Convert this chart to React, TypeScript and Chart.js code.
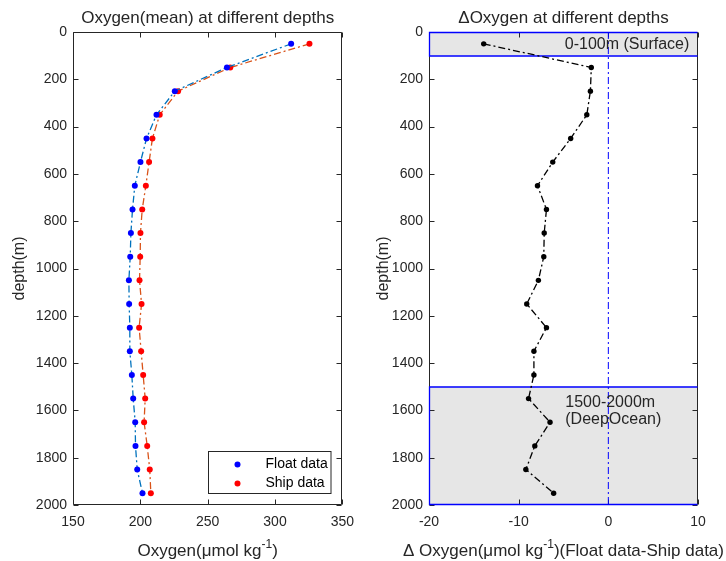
import React, { useEffect, useRef } from "react";
import { Chart, registerables } from "chart.js";

Chart.register(...registerables);

// ---------- data ----------
const depths = [50, 150, 250, 350, 450, 550, 650, 750, 850, 950, 1050, 1150, 1250, 1350, 1450, 1550, 1650, 1750, 1850, 1950];
const floatOxygen = [312.0, 264.3, 225.6, 212.0, 204.6, 200.1, 195.9, 194.2, 193.0, 192.5, 191.5, 191.7, 192.2, 192.2, 193.7, 194.7, 196.2, 196.4, 197.7, 201.6];
const shipOxygen = [325.6, 266.8, 228.0, 214.4, 209.0, 206.5, 204.1, 201.4, 200.1, 199.9, 199.4, 200.9, 199.1, 200.6, 202.1, 203.6, 202.8, 205.1, 207.0, 207.8];
const deltaOxygen = [-13.9, -1.9, -2.0, -2.4, -4.2, -6.2, -7.9, -6.9, -7.15, -7.2, -7.8, -9.1, -6.9, -8.3, -8.3, -8.9, -6.5, -8.2, -9.2, -6.1];
const leftXTicks = [150, 200, 250, 300, 350];
const rightXTicks = [-20, -10, 0, 10];
const depthTicks = [0, 200, 400, 600, 800, 1000, 1200, 1400, 1600, 1800, 2000];
const surfaceLayer = [0, 100];
const deepLayer = [1500, 2000];
const zeroLine = [0, 0];
const zeroLineDepths = [0, 2000];
const seriesNames = ["Float data", "Ship data"];

// axis titles as [text, isSuperscript] parts
const leftXTitle: [string, boolean][] = [["Oxygen(μmol kg", false], ["-1", true], [")", false]];
const rightXTitle: [string, boolean][] = [["Δ", false], [" ", false], ["Oxygen(μmol kg", false], ["-1", true], [")(Float data-Ship data)", false]];

const FONT = "'Liberation Sans', Arial, Helvetica, sans-serif";
const AX = "#262626";
const DASHDOT = [7, 3, 2, 3];

function drawFrame(chart: any, xTicks: number[], yTicks: number[]) {
  const { ctx, chartArea: a, scales } = chart;
  const L = Math.round(a.left) + 0.5;
  const R = Math.round(a.right) - 0.5;
  const T = Math.round(a.top) + 0.5;
  const B = Math.round(a.bottom) - 0.5;
  ctx.save();
  ctx.strokeStyle = AX;
  ctx.lineWidth = 1;
  ctx.beginPath();
  ctx.moveTo(L, T);
  ctx.lineTo(R, T);
  ctx.lineTo(R, B);
  ctx.lineTo(L, B);
  ctx.closePath();
  ctx.stroke();
  const tl = 5;
  ctx.beginPath();
  xTicks.forEach((v) => {
    const px = Math.round(scales.x.getPixelForValue(v)) + 0.5;
    ctx.moveTo(px, B);
    ctx.lineTo(px, B - tl);
    ctx.moveTo(px, T);
    ctx.lineTo(px, T + tl);
  });
  yTicks.forEach((v) => {
    const py = Math.round(scales.y.getPixelForValue(v)) + 0.5;
    ctx.moveTo(L, py);
    ctx.lineTo(L + tl, py);
    ctx.moveTo(R, py);
    ctx.lineTo(R - tl, py);
  });
  ctx.stroke();
  ctx.restore();
}

function drawXTitle(chart: any, parts: [string, boolean][]) {
  const { ctx, chartArea: a } = chart;
  const main = `17px ${FONT}`;
  const sup = `12px ${FONT}`;
  ctx.save();
  ctx.fillStyle = AX;
  ctx.textBaseline = "alphabetic";
  ctx.textAlign = "left";
  const widths = parts.map(([t, s]) => {
    ctx.font = s ? sup : main;
    return ctx.measureText(t).width;
  });
  const total = widths.reduce((p, c) => p + c, 0);
  let x = (a.left + a.right) / 2 - total / 2;
  const base = 556;
  parts.forEach(([t, s], i) => {
    ctx.font = s ? sup : main;
    ctx.fillText(t, x, s ? base - 8 : base);
    x += widths[i];
  });
  ctx.restore();
}

function makeScales(xMin: number, xMax: number, xTicks: number[], yWidth: number, yTitlePad: number) {
  return {
    x: {
      type: "linear",
      min: xMin,
      max: xMax,
      afterBuildTicks: (s: any) => {
        s.ticks = xTicks.map((v) => ({ value: v }));
      },
      afterFit: (s: any) => {
        s.height = 56;
      },
      grid: { display: false, drawTicks: false },
      border: { display: false },
      ticks: { color: AX, font: { family: FONT, size: 14 }, padding: 9, maxRotation: 0, callback: (v: any) => String(v) },
      title: { display: false },
    },
    y: {
      type: "linear",
      min: 0,
      max: 2000,
      reverse: true,
      afterBuildTicks: (s: any) => {
        s.ticks = depthTicks.map((v) => ({ value: v }));
      },
      afterFit: (s: any) => {
        s.width = yWidth;
      },
      grid: { display: false, drawTicks: false },
      border: { display: false },
      ticks: { color: AX, font: { family: FONT, size: 14 }, padding: 6, callback: (v: any) => String(v) },
      title: {
        display: true,
        text: "depth(m)",
        color: AX,
        font: { family: FONT, size: 16 },
        padding: { top: yTitlePad, bottom: 0 },
      },
    },
  };
}

function titleOpts(text: string) {
  return {
    display: true,
    text,
    fullSize: false,
    color: AX,
    font: { family: FONT, size: 17, weight: "normal" },
    padding: { top: 8, bottom: 3.6 },
  };
}

function leftConfig(): any {
  const legendPlugin = {
    id: "leftFrameLegend",
    afterDatasetsDraw(chart: any) {
      drawFrame(chart, leftXTicks, depthTicks);
      const { ctx } = chart;
      ctx.save();
      const bx = 208.5, by = 451.5, bw = 122.5, bh = 42;
      ctx.fillStyle = "#ffffff";
      ctx.fillRect(bx, by, bw, bh);
      ctx.strokeStyle = AX;
      ctx.lineWidth = 1;
      ctx.strokeRect(bx, by, bw, bh);
      const colors = ["#0000FF", "#FF0000"];
      const ys = [464.5, 483.5];
      ctx.font = `14px ${FONT}`;
      ctx.textBaseline = "middle";
      ctx.textAlign = "left";
      seriesNames.forEach((name, i) => {
        ctx.fillStyle = colors[i];
        ctx.beginPath();
        ctx.arc(237.5, ys[i], 3, 0, Math.PI * 2);
        ctx.fill();
        ctx.fillStyle = "#000000";
        ctx.fillText(name, 265.5, ys[i]);
      });
      ctx.restore();
    },
    afterDraw(chart: any) {
      drawXTitle(chart, leftXTitle);
    },
  };
  return {
    type: "scatter",
    data: {
      datasets: [
        {
          label: seriesNames[0],
          data: depths.map((d, i) => ({ x: floatOxygen[i], y: d })),
          showLine: true,
          borderColor: "#0072BD",
          borderWidth: 1.3,
          borderDash: DASHDOT,
          pointRadius: 3,
          pointBorderWidth: 0,
          pointBackgroundColor: "#0000FF",
          pointBorderColor: "#0000FF",
        },
        {
          label: seriesNames[1],
          data: depths.map((d, i) => ({ x: shipOxygen[i], y: d })),
          showLine: true,
          borderColor: "#D95319",
          borderWidth: 1.3,
          borderDash: DASHDOT,
          pointRadius: 3,
          pointBorderWidth: 0,
          pointBackgroundColor: "#FF0000",
          pointBorderColor: "#FF0000",
        },
      ],
    },
    options: {
      responsive: false,
      animation: false,
      devicePixelRatio: 1,
      layout: { padding: { left: 0, right: 20, top: 0, bottom: 0 } },
      plugins: {
        legend: { display: false },
        tooltip: { enabled: false },
        title: titleOpts("Oxygen(mean) at different depths"),
      },
      scales: makeScales(150, 350, leftXTicks, 73, 10.4),
    },
    plugins: [legendPlugin],
  };
}

function rightConfig(): any {
  const layerPlugin = {
    id: "rightLayers",
    beforeDatasetsDraw(chart: any) {
      const { ctx, chartArea: a, scales } = chart;
      const L = Math.round(a.left) + 0.5;
      const R = Math.round(a.right) - 0.5;
      const layers = [surfaceLayer, deepLayer];
      ctx.save();
      ctx.fillStyle = "#E6E6E6";
      layers.forEach((ly) => {
        const t = scales.y.getPixelForValue(ly[0]);
        const b = scales.y.getPixelForValue(ly[1]);
        ctx.fillRect(a.left, t, a.right - a.left, b - t);
      });
      ctx.restore();
      drawFrame(chart, rightXTicks, depthTicks);
      ctx.save();
      ctx.strokeStyle = "#0000FF";
      ctx.lineWidth = 1.3;
      layers.forEach((ly) => {
        const t = Math.round(scales.y.getPixelForValue(ly[0])) + (ly[0] === 0 ? 0.5 : 0);
        const b = Math.round(scales.y.getPixelForValue(ly[1])) - (ly[1] === 2000 ? 0.5 : 0);
        ctx.beginPath();
        ctx.moveTo(R, t);
        ctx.lineTo(L, t);
        ctx.lineTo(L, b);
        ctx.lineTo(R, b);
        ctx.stroke();
      });
      ctx.restore();
    },
    afterDatasetsDraw(chart: any) {
      const { ctx, scales } = chart;
      ctx.save();
      ctx.fillStyle = AX;
      ctx.font = `16px ${FONT}`;
      ctx.textBaseline = "middle";
      ctx.textAlign = "left";
      ctx.fillText("0-100m (Surface)", scales.x.getPixelForValue(-4.85), scales.y.getPixelForValue(55));
      ctx.fillText("1500-2000m", scales.x.getPixelForValue(-4.8), scales.y.getPixelForValue(1567));
      ctx.fillText("(DeepOcean)", scales.x.getPixelForValue(-4.8), scales.y.getPixelForValue(1640));
      ctx.restore();
    },
    afterDraw(chart: any) {
      drawXTitle(chart, rightXTitle);
    },
  };
  return {
    type: "scatter",
    data: {
      datasets: [
        {
          label: "zero",
          data: zeroLine.map((v, i) => ({ x: v, y: zeroLineDepths[i] })),
          showLine: true,
          borderColor: "#0000FF",
          borderWidth: 1,
          borderDash: DASHDOT,
          pointRadius: 0,
        },
        {
          label: "delta",
          data: depths.map((d, i) => ({ x: deltaOxygen[i], y: d })),
          showLine: true,
          borderColor: "#000000",
          borderWidth: 1.3,
          borderDash: DASHDOT,
          pointRadius: 2.7,
          pointBorderWidth: 0,
          pointBackgroundColor: "#000000",
          pointBorderColor: "#000000",
        },
      ],
    },
    options: {
      responsive: false,
      animation: false,
      devicePixelRatio: 1,
      layout: { padding: { left: 0, right: 28, top: 0, bottom: 0 } },
      plugins: {
        legend: { display: false },
        tooltip: { enabled: false },
        title: titleOpts("ΔOxygen at different depths"),
      },
      scales: makeScales(-20, 10, rightXTicks, 66, 11.4),
    },
    plugins: [layerPlugin],
  };
}

function Panel({ left, make }: { left: number; make: () => any }) {
  const ref = useRef<HTMLCanvasElement | null>(null);
  useEffect(() => {
    if (!ref.current) return;
    const chart = new Chart(ref.current, make());
    return () => chart.destroy();
  }, []);
  return (
    <canvas
      ref={ref}
      width={363}
      height={561}
      style={{ position: "absolute", left, top: 0, width: 363, height: 561 }}
    />
  );
}

export default function App() {
  return (
    <div style={{ position: "absolute", left: 0, top: 0, width: 726, height: 561, background: "#ffffff" }}>
      <Panel left={0} make={leftConfig} />
      <Panel left={363} make={rightConfig} />
    </div>
  );
}
